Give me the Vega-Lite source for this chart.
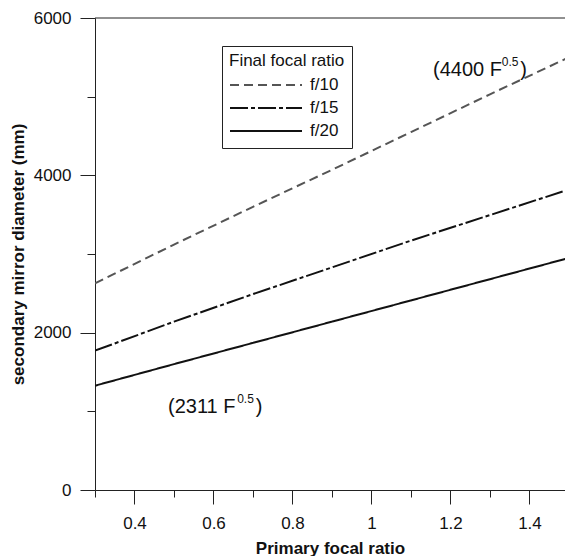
{
  "$schema": "https://vega.github.io/schema/vega-lite/v6.json",
  "width": 470,
  "height": 472,
  "autosize": {"type": "none"},
  "padding": {"left": 95, "top": 18, "right": 0, "bottom": 66},
  "config": {
    "font": "Liberation Sans",
    "view": {"stroke": null},
    "axis": {
      "domainColor": "#222222",
      "tickColor": "#222222",
      "labelColor": "#111111",
      "titleColor": "#111111",
      "labelFontSize": 17,
      "titleFontSize": 17,
      "titleFontWeight": "bold",
      "grid": false,
      "domainWidth": 1,
      "tickWidth": 1
    }
  },
  "layer": [
    {
      "data": {
        "values": [
          {"F": 0.3, "D": 2627, "ratio": "f/10"},
          {"F": 0.5, "D": 3120, "ratio": "f/10"},
          {"F": 0.7, "D": 3600, "ratio": "f/10"},
          {"F": 0.9, "D": 4070, "ratio": "f/10"},
          {"F": 1.1, "D": 4550, "ratio": "f/10"},
          {"F": 1.3, "D": 5030, "ratio": "f/10"},
          {"F": 1.5, "D": 5500, "ratio": "f/10"},
          {"F": 0.3, "D": 1771, "ratio": "f/15"},
          {"F": 0.5, "D": 2140, "ratio": "f/15"},
          {"F": 0.7, "D": 2490, "ratio": "f/15"},
          {"F": 0.9, "D": 2830, "ratio": "f/15"},
          {"F": 1.1, "D": 3170, "ratio": "f/15"},
          {"F": 1.3, "D": 3495, "ratio": "f/15"},
          {"F": 1.5, "D": 3820, "ratio": "f/15"},
          {"F": 0.3, "D": 1326, "ratio": "f/20"},
          {"F": 0.5, "D": 1600, "ratio": "f/20"},
          {"F": 0.7, "D": 1870, "ratio": "f/20"},
          {"F": 0.9, "D": 2140, "ratio": "f/20"},
          {"F": 1.1, "D": 2410, "ratio": "f/20"},
          {"F": 1.3, "D": 2680, "ratio": "f/20"},
          {"F": 1.5, "D": 2950, "ratio": "f/20"}
        ]
      },
      "mark": {"type": "line", "strokeWidth": 2, "clip": true},
      "encoding": {
        "x": {
          "field": "F",
          "type": "quantitative",
          "scale": {"domain": [0.3, 1.49], "nice": false, "zero": false},
          "axis": {
            "orient": "bottom",
            "title": "Primary focal ratio",
            "values": [0.3, 0.4, 0.5, 0.6, 0.7, 0.8, 0.9, 1.0, 1.1, 1.2, 1.3, 1.4, 1.5],
            "format": "~g",
            "labelExpr": "round(datum.value*10)%2==0 ? datum.label : ''",
            "tickSize": {"condition": {"test": "round(datum.value*10)%2==0", "value": 14}, "value": 7},
            "labelPadding": 11,
            "titlePadding": 9,
            "labelFlush": false,
            "labelOverlap": false,
            "domain": true
          }
        },
        "y": {
          "field": "D",
          "type": "quantitative",
          "scale": {"domain": [0, 6000], "nice": false},
          "axis": {
            "orient": "left",
            "title": "secondary mirror diameter (mm)",
            "values": [0, 1000, 2000, 3000, 4000, 5000, 6000],
            "format": "d",
            "labelExpr": "datum.value % 2000 == 0 ? datum.label : ''",
            "tickSize": {"condition": {"test": "datum.value % 2000 == 0", "value": 15}, "value": 8},
            "labelPadding": 9,
            "titlePadding": 6,
            "labelFlush": false,
            "labelOverlap": false,
            "domain": true
          }
        },
        "color": {
          "field": "ratio",
          "type": "nominal",
          "scale": {"domain": ["f/10", "f/15", "f/20"], "range": ["#555555", "#111111", "#111111"]},
          "legend": {
            "title": "Final focal ratio",
            "orient": "none",
            "legendX": 127,
            "legendY": 28,
            "strokeColor": "#222222",
            "padding": 7,
            "titleFontSize": 17,
            "titleFontWeight": "normal",
            "titleColor": "#111111",
            "labelFontSize": 17,
            "labelColor": "#111111",
            "symbolType": "stroke",
            "symbolSize": 5184,
            "symbolStrokeWidth": 2,
            "clipHeight": 20,
            "rowPadding": 3,
            "titlePadding": 5,
            "labelOffset": 7,
            "symbolOffset": 0
          }
        },
        "strokeDash": {
          "field": "ratio",
          "type": "nominal",
          "scale": {"domain": ["f/10", "f/15", "f/20"], "range": [[9, 5], [18, 3, 4, 3], [1, 0]]},
          "legend": {
            "title": "Final focal ratio",
            "orient": "none",
            "legendX": 127,
            "legendY": 28,
            "strokeColor": "#222222",
            "padding": 7,
            "titleFontSize": 17,
            "titleFontWeight": "normal",
            "titleColor": "#111111",
            "labelFontSize": 17,
            "labelColor": "#111111",
            "symbolType": "stroke",
            "symbolSize": 5184,
            "symbolStrokeWidth": 2,
            "clipHeight": 20,
            "rowPadding": 3,
            "titlePadding": 5,
            "labelOffset": 7,
            "symbolOffset": 0
          }
        }
      }
    },
    {
      "data": {"values": [{}]},
      "mark": {"type": "rule", "color": "#222222", "strokeWidth": 1},
      "encoding": {
        "y": {"datum": 6000, "type": "quantitative"}
      }
    },
    {
      "data": {"values": [{}]},
      "mark": {"type": "text", "align": "left", "baseline": "alphabetic", "fontSize": 20, "color": "#111111"},
      "encoding": {
        "x": {"datum": 1.156, "type": "quantitative"},
        "y": {"datum": 5263, "type": "quantitative"},
        "text": {"value": "(4400 F"}
      }
    },
    {
      "data": {"values": [{}]},
      "mark": {"type": "text", "align": "left", "baseline": "alphabetic", "fontSize": 12, "color": "#111111"},
      "encoding": {
        "x": {"datum": 1.33, "type": "quantitative"},
        "y": {"datum": 5390, "type": "quantitative"},
        "text": {"value": "0.5"}
      }
    },
    {
      "data": {"values": [{}]},
      "mark": {"type": "text", "align": "left", "baseline": "alphabetic", "fontSize": 20, "color": "#111111"},
      "encoding": {
        "x": {"datum": 1.377, "type": "quantitative"},
        "y": {"datum": 5263, "type": "quantitative"},
        "text": {"value": ")"}
      }
    },
    {
      "data": {"values": [{}]},
      "mark": {"type": "text", "align": "left", "baseline": "alphabetic", "fontSize": 20, "color": "#111111"},
      "encoding": {
        "x": {"datum": 0.485, "type": "quantitative"},
        "y": {"datum": 979, "type": "quantitative"},
        "text": {"value": "(2311 F"}
      }
    },
    {
      "data": {"values": [{}]},
      "mark": {"type": "text", "align": "left", "baseline": "alphabetic", "fontSize": 12, "color": "#111111"},
      "encoding": {
        "x": {"datum": 0.66, "type": "quantitative"},
        "y": {"datum": 1106, "type": "quantitative"},
        "text": {"value": "0.5"}
      }
    },
    {
      "data": {"values": [{}]},
      "mark": {"type": "text", "align": "left", "baseline": "alphabetic", "fontSize": 20, "color": "#111111"},
      "encoding": {
        "x": {"datum": 0.707, "type": "quantitative"},
        "y": {"datum": 979, "type": "quantitative"},
        "text": {"value": ")"}
      }
    }
  ]
}
